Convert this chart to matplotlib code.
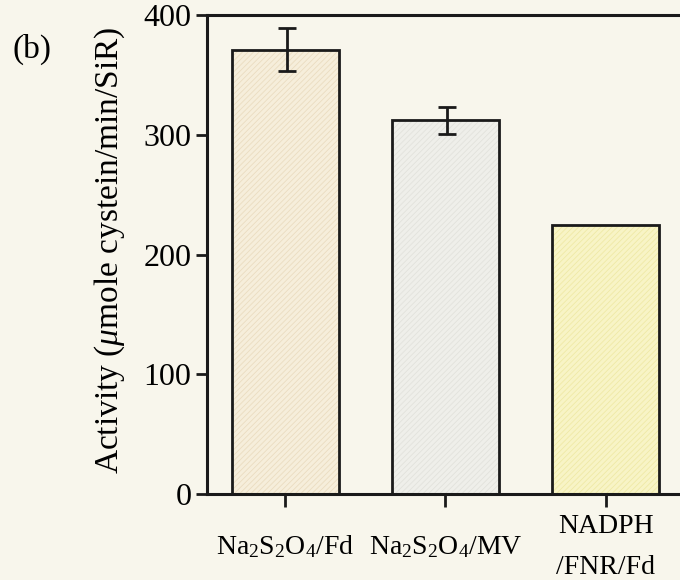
import numpy as np
import matplotlib.pyplot as plt

plt.rcParams["font.family"] = ["Liberation Serif", "DejaVu Serif"]
plt.rcParams["mathtext.fontset"] = "custom"
plt.rcParams["mathtext.rm"] = "Liberation Serif"
plt.rcParams["mathtext.it"] = "Liberation Serif:italic"
plt.rcParams["hatch.linewidth"] = 0.6

# electron donor systems and measured SiR activity
donors = [r"Na$_2$S$_2$O$_4$/Fd", r"Na$_2$S$_2$O$_4$/MV", "NADPH\n/FNR/Fd"]
activity = [371, 312, 225]
activity_err = [18, 11, 0]

PAPER = "#f8f6ec"
fills = ["#f6eedb", "#efefea", "#f8f4c6"]
hatches = ["#eadcc0", "#e2e2dc", "#efe9a6"]


def main():
    fig = plt.figure(figsize=(6.8, 5.8), dpi=100, facecolor=PAPER)
    ax = fig.add_axes([0.304, 0.148, 0.702, 0.826])
    ax.set_facecolor(PAPER)

    x = np.arange(len(donors))
    # textured fill first, outline on top
    ax.bar(x, activity, width=0.67, color=fills, edgecolor=hatches,
           hatch="//////", linewidth=0, zorder=2)
    ax.bar(x, activity, width=0.67, fill=False, edgecolor="#1a1a1a",
           linewidth=2.0, zorder=3)
    ax.errorbar(x[:2] + 0.01, activity[:2], yerr=activity_err[:2], fmt="none",
                ecolor="#1a1a1a", elinewidth=2.0, capsize=6.5, capthick=2.0, zorder=4)

    ax.set_xlim(-0.49, 2.49)
    ax.set_ylim(0, 400)
    ax.set_yticks([0, 100, 200, 300, 400])
    ax.set_xticks(x)
    ax.set_xticklabels(donors, fontsize=20)
    for lbl in ax.get_xticklabels():
        lbl.set_verticalalignment("center")
    ax.get_xticklabels()[2].set_linespacing(1.85)
    ax.tick_params(axis="y", labelsize=23, length=8, width=2.0, pad=3,
                   color="#1a1a1a")
    ax.tick_params(axis="x", length=9, width=2.0, pad=29, color="#1a1a1a")
    for s in ax.spines.values():
        s.set_linewidth(2.2)
        s.set_color("#1a1a1a")

    ax.set_ylabel(r"Activity ($\mathit{\mu}$mole cystein/min/SiR)", fontsize=24)
    ax.yaxis.set_label_coords(-0.168, 0.51)
    fig.text(0.018, 0.9, "(b)", fontsize=24)

    fig.savefig("out.png", dpi=100, facecolor=PAPER)


if __name__ == "__main__":
    main()
